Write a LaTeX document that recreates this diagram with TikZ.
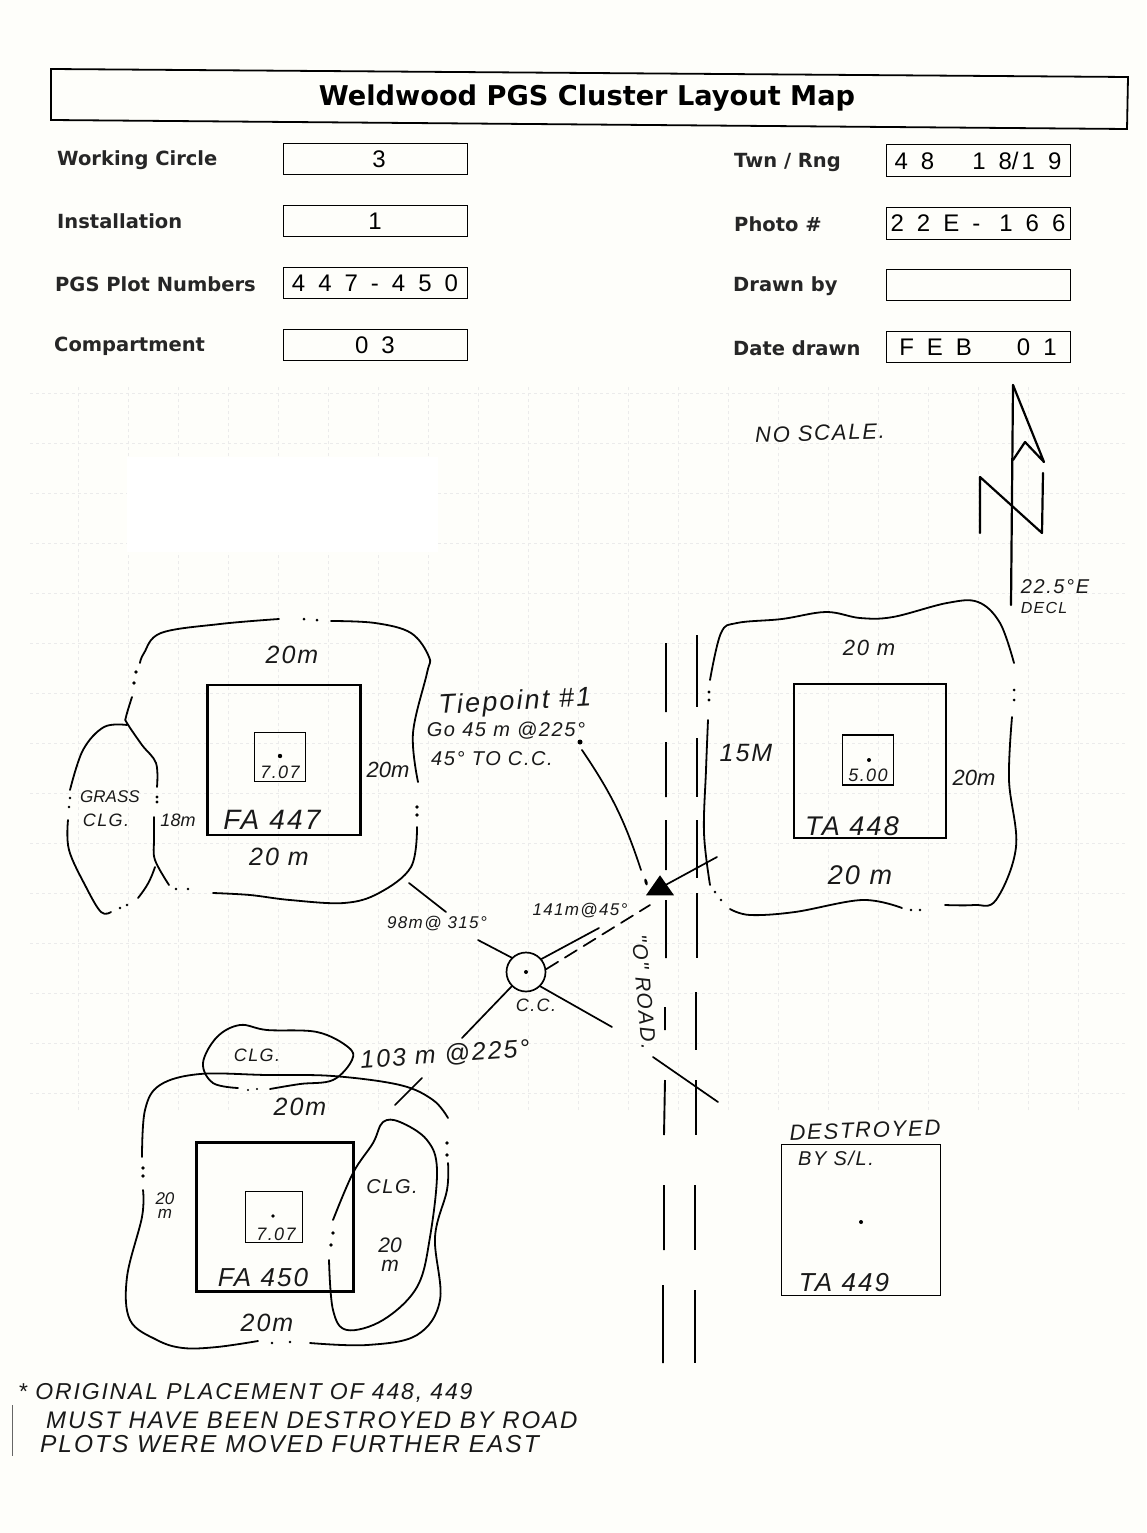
\documentclass[tikz,border=0pt]{standalone}
\usepackage{fontspec}
\setmainfont{DejaVu Sans}
\newfontfamily\fieldfont{Liberation Sans}
\newfontfamily\handfont[LetterSpace=8]{Liberation Sans}
\newfontfamily\plainhandfont{Liberation Sans}
\newcommand{\fieldsize}{\fontsize{24}{26}\selectfont\spaceskip 13pt\relax}
\newcommand{\handsize}[1]{\fontsize{#1}{#1}\selectfont}
\usetikzlibrary{positioning}
\usetikzlibrary{shapes.geometric}
\definecolor{paper}{HTML}{FEFEFA}
\tikzstyle{titletext} = [inner sep=0pt, font=\bfseries\fontsize{27.2}{30}\selectfont]
\tikzstyle{formlabel} = [anchor=west, inner sep=0pt, text=black!85, font=\bfseries\fontsize{19.5}{22}\selectfont]
\tikzstyle{fieldbox} = [rectangle, draw=black, line width=1pt, minimum width=184pt, minimum height=31pt, inner sep=0pt, fill=paper, font=\fieldfont\fieldsize]
\tikzstyle{plotbox} = [rectangle, draw=black, line width=2.2pt, inner sep=0pt]
\tikzstyle{subplotbox} = [rectangle, draw=black, line width=1.2pt, inner sep=0pt]
\tikzstyle{hand} = [inner sep=0pt, text=black!90, font=\handfont\itshape\handsize{25}]
\tikzstyle{plainhand} = [hand, font=\plainhandfont\itshape\handsize{20}]
\tikzstyle{pencil} = [line width=1.8pt, line cap=round, line join=round]
\tikzstyle{bearing} = [line width=1.7pt, line cap=round]
\tikzstyle{roadline} = [line width=1.9pt]

\begin{document}
\begin{tikzpicture}[x=1pt, y=-1pt, node distance=62pt]

\useasboundingbox (0,0) rectangle (1146,1533);
\fill [paper] (0,0) rectangle (1146,1533);
\draw [black!8, dashed, line width=0.7pt, step=50pt, xshift=28pt, yshift=-43pt] (2,342) grid (1097,1067);
\fill [white] (127,457) rectangle (438,552);

% form header
\draw [line width=1.8pt] (51,69) -- (1128,77) -- (1127,129) -- (51,120) -- cycle;
\node (title) [titletext] at (587,98) {Weldwood PGS Cluster Layout Map};

\node (circlebox) [fieldbox] at (375,159) {\hspace{8pt}3};
\node (installbox) [fieldbox, below of=circlebox] {1};
\node (plotsbox) [fieldbox, below of=installbox] {4 4 7 - 4 5 0};
\node (compbox) [fieldbox, below of=plotsbox] {0 3};
\node (twnbox) [fieldbox, minimum height=32pt] at (978,161) {4 8\hspace{38pt}1 8/\kern 3pt 1 9};
\node (photobox) [fieldbox, minimum height=32pt, below of=twnbox] {2 2 E -\hspace{6pt} 1 6 6};
\node (drawnbox) [fieldbox, below of=photobox] {};
\node (datebox) [fieldbox, below of=drawnbox] {F E B\hspace{45pt}0 1\hspace{18pt}};

\node (circlelabel) [formlabel] at (57,160) {Working Circle};
\node (installlabel) [formlabel] at (57,221) {Installation};
\node (plotslabel) [formlabel] at (55,284) {PGS Plot Numbers};
\node (complabel) [formlabel] at (54,346) {Compartment};
\node (twnlabel) [formlabel] at (734,162) {Twn / Rng};
\node (photolabel) [formlabel] at (734,224) {Photo \#};
\node (drawnlabel) [formlabel] at (733,286) {Drawn by};
\node (datelabel) [formlabel] at (733,348) {Date drawn};

% north arrow
\node (noscale) [hand, rotate=2, font=\handfont\itshape\handsize{22}] at (820,433) {NO SCALE.};
\draw [pencil, line width=2.2pt] (1013,385) -- (1011,605);
\draw [pencil, line width=2.2pt] (1013,385) -- (1044,462) -- (1025,442) -- (1013,460);
\draw [pencil, line width=2.2pt] (980,533) -- (980,477) -- (1042,533) -- (1043,473);
\node (declvalue) [hand, font=\handfont\itshape\handsize{20}] at (1055,587) {22.5°E};
\node (decllabel) [hand, font=\handfont\itshape\handsize{16}] at (1044,608) {DECL};

% FA 447
\node (fa447) [plotbox, minimum width=153pt, minimum height=150pt] at (284,760) {};
\node (fa447sub) [subplotbox, minimum width=51pt, minimum height=49pt] at (280,757) {};
\fill (280,756) circle (2.2);
\node (fa447r) [hand, font=\handfont\itshape\handsize{18}] at (280,772) {7.07};
\node (fa447name) [hand, font=\handfont\itshape\handsize{28}] at (272,820) {FA 447};
\draw [pencil] plot [smooth, tension=0.6] coordinates {(279,619) (220,624) (161,633) (144,653) (140,663)};
\draw [pencil] plot [smooth, tension=0.6] coordinates {(132,697) (126,717) (127,723) (142,745) (156,763) (157,787)};
\draw [pencil] plot [smooth, tension=0.6] coordinates {(154,817) (154,840) (155,860) (169,885)};
\draw [pencil] plot [smooth, tension=0.6] coordinates {(213,893) (250,895) (290,900) (344,903) (379,893) (411,867) (417,827)};
\draw [pencil] plot [smooth, tension=0.6] coordinates {(418,782) (413,733) (427,673) (429,657) (411,633) (375,623) (331,621)};
\fill (136,672) circle (1.8) (134,683) circle (1.8) (157,797) circle (1.6) (157,802) circle (1.6) (176,889) circle (1.4) (188,889) circle (1.4) (417,807) circle (1.8) (417,815) circle (1.8) (304,619) circle (1.5) (317,620) circle (1.5);
\draw [pencil] plot [smooth, tension=0.6] coordinates {(127,725) (104,727) (83,750) (70,790)};
\draw [pencil] plot [smooth, tension=0.6] coordinates {(68,820) (69,850) (86,887) (101,912) (111,912)};
\draw [pencil] (138,898) to [bend right=10] (155,867);
\fill (70,798) circle (1.4) (69,807) circle (1.4) (120,908) circle (1.4) (127,905) circle (1.4);
\node (grasslabel) [plainhand, font=\plainhandfont\itshape\handsize{17}] at (110,797) {GRASS};
\node (clglabel) [hand, font=\handfont\itshape\handsize{18}] at (106,820) {CLG.};
\node (gap447) [plainhand, font=\plainhandfont\itshape\handsize{18}] at (178,820) {18m};
\node (n447) [hand] at (292,655) {20m};
\node (e447) [plainhand, font=\plainhandfont\itshape\handsize{22}] at (388,770) {20m};
\node (s447) [hand] at (279,857) {20 m};

% TA 448
\node (ta448) [plotbox, minimum width=152pt, minimum height=154pt] at (870,761) {};
\node (ta448sub) [subplotbox, minimum width=51pt, minimum height=50pt] at (868,760) {};
\fill (869,760) circle (2);
\node (ta448r) [hand, font=\handfont\itshape\handsize{18}] at (868,775) {5.00};
\node (ta448name) [hand, font=\handfont\itshape\handsize{27}] at (852,826) {TA 448};
\draw [pencil] plot [smooth, tension=0.6] coordinates {(710,680) (721,633) (737,623) (782,619) (826,612) (860,618) (893,617) (947,603) (978,602) (1000,623) (1014,663)};
\draw [pencil] plot [smooth, tension=0.6] coordinates {(1012,717) (1009,780) (1016,847) (996,900) (974,905) (945,905)};
\draw [pencil] plot [smooth, tension=0.6] coordinates {(902,908) (862,900) (795,912) (750,915) (730,909)};
\draw [pencil] plot [smooth, tension=0.6] coordinates {(710,885) (704,833) (706,770) (708,720)};
\fill (709,692) circle (1.6) (709,700) circle (1.6) (1014,690) circle (1.5) (1014,700) circle (1.5) (911,910) circle (1.4) (920,910) circle (1.4) (715,892) circle (1.4) (721,900) circle (1.4);
\node (n448) [hand, font=\handfont\itshape\handsize{22}] at (869,648) {20 m};
\node (w448) [hand] at (746,753) {15M};
\node (e448) [plainhand, font=\plainhandfont\itshape\handsize{22}] at (974,778) {20m};
\node (s448) [hand, font=\handfont\itshape\handsize{27}] at (860,875) {20 m};

% road
\draw [roadline] (666,643) -- (666,712) (666,742) -- (666,797) (666,820) -- (666,870) (666,900) -- (666,958) (665,1007) -- (665,1030) (665,1080) -- (664,1135) (664,1185) -- (664,1250) (663,1285) -- (663,1363);
\draw [roadline] (697,635) -- (697,707) (697,738) -- (697,797) (697,820) -- (697,878) (697,893) -- (697,958) (696,992) -- (696,1050) (696,1080) -- (696,1135) (695,1185) -- (695,1250) (695,1290) -- (695,1363);
\node (roadname) [hand, rotate=-85, font=\handfont\itshape\handsize{21}] at (644,992) {"O" ROAD.};

% centre and tie point
\node (cc) [circle, draw=black, line width=1.7pt, minimum size=39pt, inner sep=0pt] at (526,972) {};
\fill (526,972) circle (2);
\node (cclabel) [hand, font=\handfont\itshape\handsize{18}] at (536,1005) {C.C.};
\node (tiepoint) [isosceles triangle, isosceles triangle apex angle=70, shape border rotate=90, fill=black, minimum height=20pt, inner sep=0pt] at (660,888) {};
\node (tiedot) [circle, fill=black, minimum size=5pt, inner sep=0pt] at (580,742) {};
\node (tiemark) [ellipse, fill=black, minimum width=3pt, minimum height=7pt, inner sep=0pt, rotate=15] at (646,882) {};
\coordinate (tieend) at (717,857);
\coordinate (ccne) at (599,928);
\coordinate (ccdash) at (650,905);
\coordinate (ccnw) at (478,940);
\coordinate (fa447tick) at (446,912);
\coordinate (fa447edge) at (409,883);
\coordinate (ccsw) at (462,1038);
\coordinate (fa450tick) at (422,1078);
\coordinate (fa450edge) at (395,1105);
\coordinate (ccse) at (612,1027);
\coordinate (roadtick) at (653,1057);
\coordinate (roadedge) at (718,1102);
\draw [bearing] (tiedot.south east) ++(0,6) to [bend left=8] (641,870);
\draw [bearing] (tiepoint) -- (tieend);
\draw [bearing] (cc.40) -- (ccne);
\draw [bearing, dash pattern=on 14pt off 8pt] (cc.8) -- (ccdash);
\draw [bearing] (cc.135) -- (ccnw);
\draw [bearing] (fa447edge) -- (fa447tick);
\draw [bearing] (cc.225) -- (ccsw);
\draw [bearing] (fa450tick) -- (fa450edge);
\draw [bearing] (cc.315) -- (ccse);
\draw [bearing] (roadtick) -- (roadedge);

\node (tietitle) [hand, rotate=3, font=\handfont\itshape\handsize{27}] at (515,703) {Tiepoint \#1};
\node (tieline) [hand, font=\handfont\itshape\handsize{20}] at (506,731) {Go 45 m @225°};
\node (tieback) [hand, font=\handfont\itshape\handsize{20}] at (492,759) {45° TO C.C.};
\node (nwbearing) [hand, font=\handfont\itshape\handsize{17}] at (437,924) {98m@ 315°};
\node (nebearing) [hand, font=\handfont\itshape\handsize{17}] at (580,911) {141m@45°};
\node (swbearing) [hand, rotate=4] at (445,1055) {103 m @225°};

% FA 450
\node (fa450) [plotbox, minimum width=157pt, minimum height=149pt] at (275,1217) {};
\node (fa450sub) [subplotbox, minimum width=57pt, minimum height=51pt] at (274,1217) {};
\fill (273,1216) circle (1.8);
\node (fa450r) [hand, font=\handfont\itshape\handsize{18}] at (276,1234) {7.07};
\node (fa450name) [hand, font=\handfont\itshape\handsize{26}] at (263,1278) {FA 450};
\draw [pencil] plot [smooth, tension=0.6] coordinates {(448,1118) (433,1100) (400,1085) (333,1076) (267,1075) (200,1074) (160,1085) (145,1110) (142,1157)};
\draw [pencil] plot [smooth, tension=0.6] coordinates {(143,1190) (142,1217) (127,1277) (130,1320) (157,1340) (183,1348) (217,1347) (258,1341)};
\draw [pencil] plot [smooth, tension=0.6] coordinates {(310,1343) (367,1345) (417,1335) (440,1300) (435,1237) (447,1190) (448,1163)};
\fill (143,1168) circle (1.8) (143,1176) circle (1.8) (272,1343) circle (1.4) (290,1342) circle (1.4) (447,1143) circle (1.8) (447,1155) circle (1.8) (333,1233) circle (1.8) (331,1245) circle (1.8) (248,1090) circle (1.2) (257,1089) circle (1.2);
\draw [pencil] plot [smooth, tension=0.6] coordinates {(238,1088) (213,1083) (203,1063) (217,1037) (240,1025) (267,1030) (317,1032) (348,1047) (352,1060) (333,1080) (300,1084) (270,1089)};
\draw [pencil] plot [smooth, tension=0.6] coordinates {(333,1220) (353,1173) (373,1143) (383,1122) (400,1122) (427,1140) (437,1170) (430,1237) (417,1287) (383,1320) (347,1330) (333,1310) (329,1260)};
\node (topclg) [hand, font=\handfont\itshape\handsize{18}] at (257,1055) {CLG.};
\node (rightclg) [hand, font=\handfont\itshape\handsize{20}] at (392,1187) {CLG.};
\node (n450) [hand] at (300,1107) {20m};
\node (w450) [hand, align=center, font=\plainhandfont\itshape\fontsize{17}{14}\selectfont] at (165,1206) {20\\m};
\node (e450) [hand, align=center, font=\plainhandfont\itshape\fontsize{21}{19}\selectfont] at (390,1255) {20\\m};
\node (s450) [hand] at (267,1323) {20m};

% TA 449
\node (ta449) [rectangle, draw=black, line width=1.6pt, minimum width=159pt, minimum height=151pt, inner sep=0pt] at (861,1220) {};
\fill (861,1222) circle (2);
\node (destroyed) [hand, rotate=2, font=\handfont\itshape\handsize{22}] at (865,1130) {DESTROYED};
\node (destroyedby) [hand, font=\handfont\itshape\handsize{20}] at (836,1158) {BY S/L.};
\node (ta449name) [hand, font=\handfont\itshape\handsize{26}] at (844,1283) {TA 449};

% note
\node (note1) [hand, anchor=west, font=\handfont\itshape\handsize{23}] at (18,1393) {* ORIGINAL PLACEMENT OF 448, 449};
\node (note2) [hand, anchor=west, font=\handfont\itshape\handsize{24}] at (46,1420) {MUST HAVE BEEN DESTROYED BY ROAD};
\node (note3) [hand, anchor=west, font=\handfont\itshape\handsize{24.5}] at (40,1444) {PLOTS WERE MOVED FURTHER EAST};
\draw [black!60, line width=0.8pt] (12,1405) -- (12,1456);

\end{tikzpicture}
\end{document}
